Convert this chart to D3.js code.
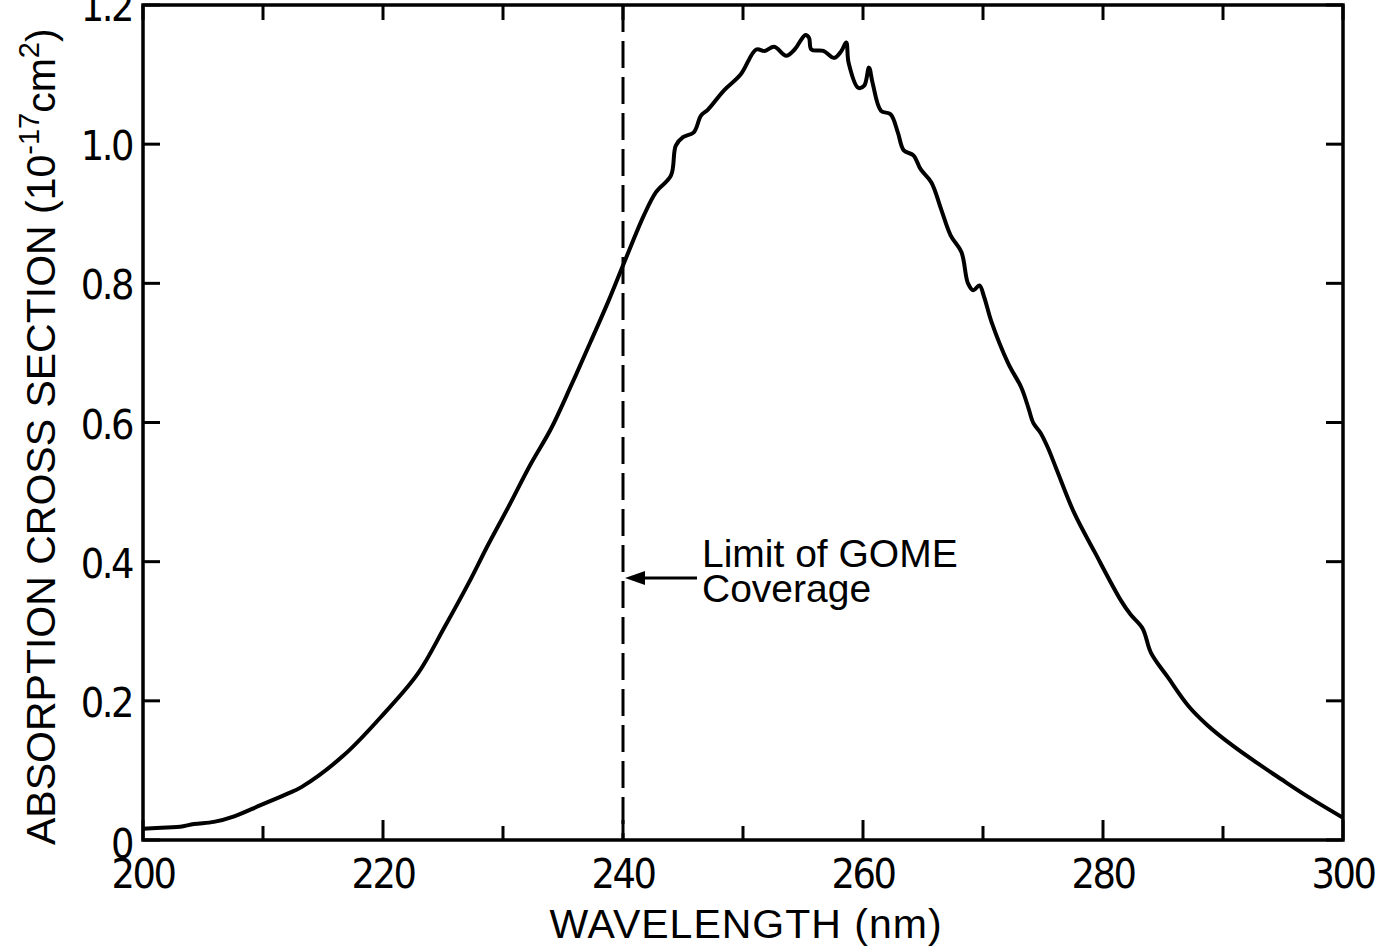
<!DOCTYPE html>
<html>
<head>
<meta charset="utf-8">
<script src="https://cdn.jsdelivr.net/npm/d3@7"></script>
<style>
  html, body { margin: 0; padding: 0; background: #fff; }
  svg { display: block; }
</style>
</head>
<body>
<svg id="chart" width="1383" height="946"></svg>
<script>
// Absorption cross section spectrum (units of 1e-17 cm^2) vs wavelength in nm
const wavelength = [
  200, 202, 203.1, 204.25, 205.9, 207.6, 209.8, 212.1, 213.2, 216.75, 220.1, 222.9,
  225.1, 227.1, 228.75, 230.4, 232.3, 234, 235.7, 237.3, 238.75, 240.1, 241.75, 242.75, 244, 244.4,
  245, 245.9, 246.5, 247.1, 248.4, 249.8, 251.1, 251.8, 252.6, 253.6, 254.3, 255.2, 255.5,
  255.7, 256.7, 257.6, 258.2, 258.6, 258.8, 259.6, 260.1, 260.5, 260.8, 261.5, 262.3, 262.9,
  263.4, 264.2, 264.8, 265.7, 266.5, 267.3, 268.2, 268.75, 269.2, 269.7, 270.1, 270.7, 272.1,
  273.2, 273.8, 274.2, 274.8, 275.4, 276.1, 277.6, 279.3, 281.5, 282.3, 283.3, 284, 285.4,
  287.1, 288.7, 290.7, 292.9, 294.8, 297.1, 300
];
const crossSection = [
  0.016, 0.018, 0.019, 0.023, 0.026, 0.034, 0.050, 0.067, 0.076, 0.122, 0.182, 0.239,
  0.305, 0.368, 0.424, 0.477, 0.540, 0.591, 0.654, 0.716, 0.773, 0.830, 0.898, 0.931, 0.955, 0.998,
  1.010, 1.017, 1.041, 1.050, 1.077, 1.100, 1.136, 1.134, 1.140, 1.127, 1.136, 1.157, 1.153,
  1.136, 1.134, 1.124, 1.134, 1.146, 1.117, 1.081, 1.084, 1.110, 1.088, 1.048, 1.043, 1.017,
  0.991, 0.984, 0.964, 0.945, 0.907, 0.869, 0.845, 0.800, 0.790, 0.797, 0.780, 0.745, 0.685,
  0.650, 0.620, 0.599, 0.585, 0.564, 0.534, 0.470, 0.414, 0.344, 0.324, 0.304, 0.269, 0.234,
  0.193, 0.165, 0.137, 0.110, 0.088, 0.062, 0.032
];

const xMajorTicks = [200, 220, 240, 260, 280, 300];
const xMinorTicks = [210, 230, 250, 270, 290];
const yTicks = [0, 0.2, 0.4, 0.6, 0.8, 1.0, 1.2];
const yTickLabels = ["0", "0.2", "0.4", "0.6", "0.8", "1.0", "1.2"];
const gomeLimit = 240;
const noteLines = ["Limit of GOME", "Coverage"];

const svg = d3.select("#chart");
const plotLeft = 143, plotRight = 1343, plotTop = 5, plotBottom = 840;

const x = d3.scaleLinear().domain([200, 300]).range([plotLeft, plotRight]);
const y = d3.scaleLinear().domain([0, 1.2]).range([plotBottom, plotTop]);

const tickFont = "'Liberation Sans Narrow', 'DejaVu Sans Condensed', 'Liberation Sans', sans-serif";
const labelFont = "'Liberation Sans', Arial, sans-serif";

// Frame
svg.append("rect")
  .attr("x", plotLeft).attr("y", plotTop)
  .attr("width", plotRight - plotLeft).attr("height", plotBottom - plotTop)
  .attr("fill", "none").attr("stroke", "#000").attr("stroke-width", 3.5);

// Inward tick marks on all four sides
const tickG = svg.append("g").attr("stroke", "#000").attr("stroke-width", 3);
xMajorTicks.concat(xMinorTicks).forEach(t => {
  const major = xMajorTicks.includes(t);
  const len = major ? 20 : 14;
  tickG.append("line").attr("x1", x(t)).attr("x2", x(t))
    .attr("y1", plotBottom).attr("y2", plotBottom - len);
  tickG.append("line").attr("x1", x(t)).attr("x2", x(t))
    .attr("y1", plotTop).attr("y2", plotTop + 15);
});
yTicks.forEach(t => {
  tickG.append("line").attr("x1", plotLeft).attr("x2", plotLeft + 17)
    .attr("y1", y(t)).attr("y2", y(t));
  tickG.append("line").attr("x1", plotRight).attr("x2", plotRight - 17)
    .attr("y1", y(t)).attr("y2", y(t));
});

// Tick labels
svg.append("g").selectAll("text").data(xMajorTicks).join("text")
  .attr("x", d => x(d)).attr("y", 888)
  .attr("text-anchor", "middle")
  .attr("font-family", tickFont).attr("font-size", 41)
  .attr("letter-spacing", -2.5)
  .text(d => d);

svg.append("g").selectAll("text").data(yTicks).join("text")
  .attr("x", 132).attr("y", d => y(d) + (d === 0 ? 18 : 16))
  .attr("text-anchor", "end")
  .attr("font-family", tickFont).attr("font-size", 41)
  .attr("letter-spacing", -2.5)
  .text((d, i) => yTickLabels[i]);

// Axis titles
svg.append("text")
  .attr("x", 746).attr("y", 938)
  .attr("text-anchor", "middle")
  .attr("font-family", labelFont).attr("font-size", 41)
  .attr("letter-spacing", 1)
  .text("WAVELENGTH (nm)");

const yTitle = svg.append("text")
  .attr("transform", "translate(55,845) rotate(-90)")
  .attr("text-anchor", "start")
  .attr("font-family", labelFont).attr("font-size", 41);
yTitle.append("tspan").text("ABSORPTION CROSS SECTION (10");
yTitle.append("tspan").attr("dy", -16).attr("font-size", 29).text("-17");
yTitle.append("tspan").attr("dy", 16).text("cm");
yTitle.append("tspan").attr("dy", -16).attr("font-size", 29).text("2");
yTitle.append("tspan").attr("dy", 16).text(")");

// GOME coverage limit
svg.append("line")
  .attr("x1", x(gomeLimit)).attr("x2", x(gomeLimit))
  .attr("y1", plotTop).attr("y2", plotBottom)
  .attr("stroke", "#000").attr("stroke-width", 3)
  .attr("stroke-dasharray", "27 9");

// Spectrum
const line = d3.line()
  .x((d, i) => x(wavelength[i]))
  .y(d => y(d))
  .curve(d3.curveCatmullRom.alpha(0.5));
svg.append("path")
  .datum(crossSection)
  .attr("d", line)
  .attr("fill", "none").attr("stroke", "#000")
  .attr("stroke-width", 4).attr("stroke-linejoin", "round");

// Annotation arrow and text
const arrowY = 578;
svg.append("line")
  .attr("x1", 697).attr("x2", x(gomeLimit) + 16)
  .attr("y1", arrowY).attr("y2", arrowY)
  .attr("stroke", "#000").attr("stroke-width", 3);
svg.append("path")
  .attr("d", `M${x(gomeLimit) + 2},${arrowY} L${x(gomeLimit) + 22},${arrowY - 7} L${x(gomeLimit) + 22},${arrowY + 7} Z`)
  .attr("fill", "#000");

svg.append("g").selectAll("text").data(noteLines).join("text")
  .attr("x", 702).attr("y", (d, i) => 567 + i * 35)
  .attr("font-family", labelFont).attr("font-size", 39)
  .text(d => d);
</script>
</body>
</html>
